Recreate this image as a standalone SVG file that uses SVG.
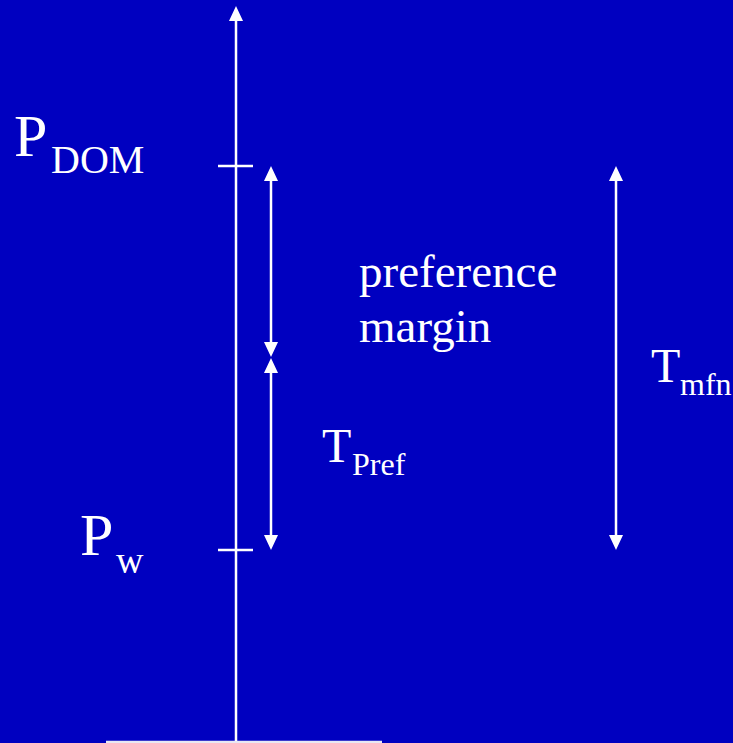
<svg xmlns="http://www.w3.org/2000/svg" width="733" height="743" viewBox="0 0 733 743">
<style>
.ln{stroke:#FFFFFF;stroke-width:2.5;fill:none}
.ah{fill:#FFFFFF}
.t{fill:#FFFFFF}
</style>
<rect x="0" y="0" width="733" height="743" fill="#0000C0"/>
<g id="connectors">
<line class="ln" x1="236" y1="18" x2="236" y2="743"/>
<polygon class="ah" points="236,6 229,21 243,21"/>
<line class="ln" x1="218" y1="166" x2="253" y2="166"/>
<line class="ln" x1="218" y1="550" x2="253" y2="550"/>
<line class="ln" x1="271" y1="178" x2="271" y2="345"/>
<polygon class="ah" points="271,166 264,181 278,181"/>
<polygon class="ah" points="271,357 264,342 278,342"/>
<line class="ln" x1="271" y1="370" x2="271" y2="538"/>
<polygon class="ah" points="271,358 264,373 278,373"/>
<polygon class="ah" points="271,550 264,535 278,535"/>
<line class="ln" x1="616" y1="178" x2="616" y2="538"/>
<polygon class="ah" points="616,166 609,181 623,181"/>
<polygon class="ah" points="616,550 609,535 623,535"/>
<line x1="106" y1="742" x2="382" y2="742" stroke="#E8E8F4" stroke-width="2.5"/>
</g>
<g font-family="'Liberation Serif', 'DejaVu Serif', serif" fill="#FFFFFF">
<g id="P_DOM"><text class="t" x="14" y="156" font-size="60">P</text><text class="t" x="51" y="173" font-size="40">DOM</text></g>
<g id="P_w"><text class="t" x="80" y="555" font-size="60">P</text><text class="t" x="116" y="573" font-size="38">w</text></g>
<g id="preference_margin"><text class="t" x="359" y="287" font-size="47">preference</text><text class="t" x="359" y="342" font-size="47">margin</text></g>
<g id="T_Pref"><text class="t" x="322" y="462" font-size="48">T</text><text class="t" x="352" y="475" font-size="32">Pref</text></g>
<g id="T_mfn"><text class="t" x="651" y="382" font-size="48">T</text><text class="t" x="680" y="395" font-size="32">mfn</text></g>
</g>
</svg>
